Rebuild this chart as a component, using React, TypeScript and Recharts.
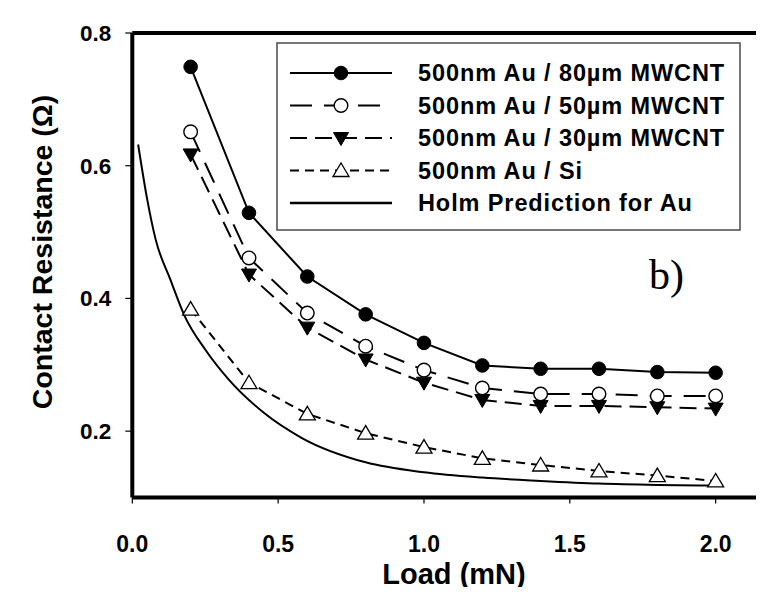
import React from 'react';
import { LineChart, Line, XAxis, YAxis, ReferenceLine, Customized } from 'recharts';

// ---- data ----
const loads = [0.2, 0.4, 0.6, 0.8, 1.0, 1.2, 1.4, 1.6, 1.8, 2.0];
const r80 = [0.749, 0.529, 0.433, 0.376, 0.333, 0.299, 0.294, 0.294, 0.289, 0.288];
const r50 = [0.651, 0.461, 0.378, 0.328, 0.292, 0.265, 0.256, 0.256, 0.253, 0.253];
const r30 = [0.617, 0.436, 0.356, 0.308, 0.273, 0.247, 0.238, 0.238, 0.236, 0.234];
const rSi = [0.384, 0.273, 0.226, 0.197, 0.176, 0.159, 0.149, 0.140, 0.133, 0.125];
const holmLoads = [0.02, 0.05, 0.08, 0.13, 0.18, 0.25, 0.33, 0.45, 0.58, 0.8, 1.0, 1.2, 1.4, 1.6, 1.8, 2.0];
const holmR = [0.632, 0.552, 0.489, 0.429, 0.373, 0.323, 0.278, 0.228, 0.190, 0.153, 0.138, 0.130, 0.125, 0.121, 0.119, 0.118];
const xTicks = [0, 0.5, 1.0, 1.5, 2.0];
const yTicks = [0.2, 0.4, 0.6, 0.8];
const seriesNames = [
  '500nm Au / 80\u00b5m MWCNT',
  '500nm Au / 50\u00b5m MWCNT',
  '500nm Au / 30\u00b5m MWCNT',
  '500nm Au / Si',
  'Holm Prediction for Au',
];

const toData = (xs: number[], ys: number[]) => xs.map((x, i) => ({ load: x, r: ys[i] }));
const d80 = toData(loads, r80);
const d50 = toData(loads, r50);
const d30 = toData(loads, r30);
const dSi = toData(loads, rSi);
const dHolm = toData(holmLoads, holmR);

const SANS = "'Liberation Sans', Arial, sans-serif";
const SERIF = "'Liberation Serif', 'Times New Roman', serif";

const FilledCircle = (p: any) => (p.cx == null ? null : <circle cx={p.cx} cy={p.cy} r={6.8} fill="#000" stroke="#000" strokeWidth={1} />);
const OpenCircle = (p: any) => (p.cx == null ? null : <circle cx={p.cx} cy={p.cy} r={6.8} fill="#fff" stroke="#000" strokeWidth={1.4} />);
const TriDown = (p: any) => {
  if (p.cx == null) return null;
  const { cx, cy } = p;
  return <path d={`M${cx - 7.5},${cy - 5.5} L${cx + 7.5},${cy - 5.5} L${cx},${cy + 7.5} Z`} fill="#000" stroke="#000" strokeWidth={1} />;
};
const TriUp = (p: any) => {
  if (p.cx == null) return null;
  const { cx, cy } = p;
  return <path d={`M${cx - 8},${cy + 6} L${cx + 8},${cy + 6} L${cx},${cy - 7.5} Z`} fill="#fff" stroke="#000" strokeWidth={1.3} />;
};

const legendStyles = [
  { dash: undefined as string | undefined, Marker: FilledCircle },
  { dash: '22 12', Marker: OpenCircle },
  { dash: '17 8', Marker: TriDown },
  { dash: '9 6', Marker: TriUp },
  { dash: undefined as string | undefined, Marker: null as any },
];

const Overlay = () => {
  const rowY = [73, 105.5, 138, 170.5, 203];
  return (
    <g>
      {/* title cropped at the very top, as in the reference */}
      <text x={495} y={1} textAnchor="middle" fontFamily={SANS} fontWeight="bold" fontSize={30} fill="#000">(Au)</text>
      {/* axis titles */}
      <text x={42} y={252} transform="rotate(-90 42 252)" textAnchor="middle" dominantBaseline="central" fontFamily={SANS} fontWeight="bold" fontSize={28.5} fill="#000">Contact Resistance (Ω)</text>
      <text x={454} y={584} textAnchor="middle" fontFamily={SANS} fontWeight="bold" fontSize={29} fill="#000">Load (mN)</text>
      <text x={649} y={289} fontFamily={SERIF} fontSize={42} fill="#000">b)</text>
      {/* legend */}
      <rect x={277} y={43} width={463} height={187} fill="#fff" stroke="#555" strokeWidth={1.6} />
      {seriesNames.map((name, i) => {
        const st = legendStyles[i];
        const M = st.Marker;
        return (
          <g key={name}>
            <line x1={290} x2={392} y1={rowY[i]} y2={rowY[i]} stroke="#000" strokeWidth={i === 4 ? 2.6 : 2} strokeDasharray={st.dash} />
            {M ? <M cx={341} cy={rowY[i]} /> : null}
            <text x={418} y={rowY[i]} dominantBaseline="central" fontFamily={SANS} fontWeight="bold" fontSize={23.5} letterSpacing={0.9} fill="#000">{name}</text>
          </g>
        );
      })}
    </g>
  );
};

export default function App() {
  return (
    <div style={{ margin: '-8px', width: 764, height: 595, overflow: 'hidden', background: '#fff' }}>
      <LineChart width={790} height={595} margin={{ top: 33, right: 16, bottom: 37.5, left: 0 }}>
        <XAxis
          type="number"
          dataKey="load"
          domain={[0, 2.2]}
          ticks={xTicks}
          tickFormatter={(v: number) => v.toFixed(1)}
          height={60}
          tickSize={6}
          tickMargin={32}
          axisLine={{ stroke: '#000', strokeWidth: 4 }}
          tickLine={{ stroke: '#000', strokeWidth: 1.2 }}
          tick={{ fill: '#000', fontFamily: SANS, fontWeight: 'bold', fontSize: 23 }}
        />
        <YAxis
          type="number"
          dataKey="r"
          domain={[0.1, 0.8]}
          ticks={yTicks}
          tickFormatter={(v: number) => v.toFixed(1)}
          width={132.3}
          tickSize={7}
          tickMargin={14}
          axisLine={{ stroke: '#000', strokeWidth: 4 }}
          tickLine={{ stroke: '#000', strokeWidth: 1.2 }}
          tick={{ fill: '#000', fontFamily: SANS, fontWeight: 'bold', fontSize: 22.5 }}
        />
        <ReferenceLine y={0.8} stroke="#000" strokeWidth={4} />
        <Line data={dHolm} dataKey="r" type="monotone" stroke="#000" strokeWidth={2} dot={false} isAnimationActive={false} />
        <Line data={dSi} dataKey="r" type="linear" stroke="#000" strokeWidth={2} strokeDasharray="9 6" dot={<TriUp />} isAnimationActive={false} />
        <Line data={d30} dataKey="r" type="linear" stroke="#000" strokeWidth={2} strokeDasharray="17 8" dot={<TriDown />} isAnimationActive={false} />
        <Line data={d50} dataKey="r" type="linear" stroke="#000" strokeWidth={2} strokeDasharray="22 12" dot={<OpenCircle />} isAnimationActive={false} />
        <Line data={d80} dataKey="r" type="linear" stroke="#000" strokeWidth={2} dot={<FilledCircle />} isAnimationActive={false} />
        <Customized component={Overlay} />
      </LineChart>
    </div>
  );
}
